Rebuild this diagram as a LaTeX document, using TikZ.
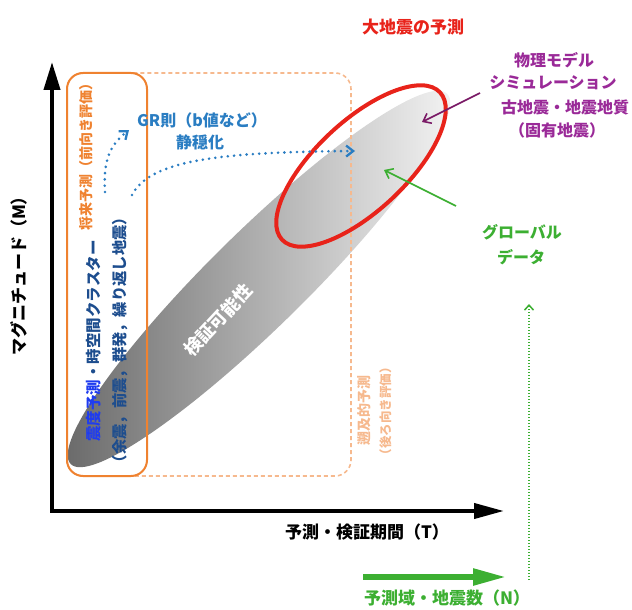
\documentclass[tikz,border=0pt]{standalone}
\usepackage{fontspec}
\setmainfont{Noto Sans CJK JP}
\usetikzlibrary{arrows.meta}
\definecolor{ored}{HTML}{E8231A}
\definecolor{purp}{HTML}{9A2A98}
\definecolor{parrow}{HTML}{7A1A66}
\definecolor{ggreen}{HTML}{3CAF32}
\definecolor{bblue}{HTML}{2A7DC2}
\definecolor{vblue}{HTML}{1F3CF0}
\definecolor{nblue}{HTML}{1D4D8E}
\definecolor{orng}{HTML}{EF8230}
\definecolor{lorng}{HTML}{F6B98E}
\tikzset{
  lbl/.style={font=\bfseries\fontsize{16}{19}\selectfont, inner sep=0pt},
  axisline/.style={line width=4pt, line join=miter},
  bdot/.style={bblue, line width=2.9pt, line cap=round, dash pattern=on 0pt off 6.3pt, -{Straight Barb[length=7pt,width=11pt,line width=2.3pt]}},
  solidbox/.style={orng, line width=2pt, rounded corners=16pt},
  dashbox/.style={lorng, line width=1.6pt, dash pattern=on 4pt off 3pt, rounded corners=16pt},
}
\begin{document}
\begin{tikzpicture}[x=1pt,y=-1pt]
\useasboundingbox (0,0) rectangle (632,610);
% gray ellipse
\shade[rotate around={44.5:(259,279)}, left color=gray!80!black, right color=gray!6]
  (259,279) ellipse [x radius=264, y radius=48];
% boxes
\draw[dashbox] (67,73) rectangle (351,476);
\draw[solidbox] (67,73) rectangle (147,476);
% red ellipse
\draw[ored, line width=4pt, rotate around={43:(361,166)}] (361,166) ellipse [x radius=108, y radius=45];
% axes
\coordinate (O) at (52,511);
\coordinate (Ytip) at (52,62);
\coordinate (Xtip) at (504,511);
\draw[axisline, {Triangle[length=28pt,width=16pt]}-{Triangle[length=30pt,width=15pt]}] (Ytip) -- (O) -- (Xtip);
% green arrow and dotted line
\coordinate (g1) at (363,577);
\coordinate (g2) at (506,577);
\draw[ggreen, line width=5.5pt, -{Triangle[length=33pt,width=16pt]}] (g1) -- (g2);
\coordinate (d1) at (529,580);
\coordinate (d2) at (529,304);
\draw[ggreen, line width=1.5pt, dash pattern=on 1.5pt off 1.5pt, -{Straight Barb[length=5pt,width=9pt,line width=1.5pt]}] (d1) -- (d2);
% blue dotted arrows
\coordinate (s1) at (105,192);
\coordinate (s2) at (129,130);
\draw[bdot] (s1) .. controls (103,160) and (110,145) .. (s2);
\coordinate (l1) at (132,195);
\coordinate (l2) at (355,151);
\draw[bdot] (l1) .. controls (150,160) and (220,152) .. (l2);
% texts
\node[lbl, text=ored, font=\bfseries\fontsize{17}{20}\selectfont] (big) at (413,27) {大地震の予測};
\node[lbl, text=purp] (p1) at (554,60) {物理モデル};
\node[lbl, text=purp] (p2) at (553,83) {シミュレーション};
\node[lbl, text=purp] (p3) at (565,107) {古地震・地震地質};
\node[lbl, text=purp] (p4) at (557,130) {（固有地震）};
\coordinate (pa1) at (480,93);
\coordinate (pa2) at (422,122);
\draw[parrow, line width=1.6pt, -{Straight Barb[length=7pt,width=11pt,line width=1.6pt]}] (pa1) -- (pa2);
\node[lbl, text=ggreen] (gl1) at (522,232) {グローバル};
\node[lbl, text=ggreen] (gl2) at (521,257) {データ};
\coordinate (ga1) at (456,206);
\coordinate (ga2) at (384,170);
\draw[ggreen, line width=1.6pt, -{Straight Barb[length=7pt,width=11pt,line width=1.6pt]}] (ga1) -- (ga2);
\node[lbl, text=bblue] (gr) at (202,120) {GR則（b値など）};
\node[lbl, text=bblue] (sei) at (200,142) {静穏化};
\node[lbl, text=orng, rotate=90, font=\bfseries\fontsize{14}{16}\selectfont] (fut) at (86,153) {将来予測（前向き評価）};
\node[lbl, rotate=90, font=\bfseries\fontsize{15.5}{18}\selectfont] (shin) at (94,341) {\textcolor{vblue}{震度予測}\textcolor{nblue}{・時空間クラスター}};
\node[lbl, rotate=90, text=nblue, font=\bfseries\fontsize{15.3}{18}\selectfont] (yo) at (120,340) {（余震，前震，群発，繰り返し地震）};
\node[lbl, rotate=90, text=lorng, font=\bfseries\fontsize{14}{16}\selectfont] (sokyu) at (364,410) {遡及的予測};
\node[lbl, rotate=90, text=lorng, font=\bfseries\fontsize{12.5}{15}\selectfont] (ushiro) at (386,411) {（後ろ向き評価）};
\node[lbl, rotate=47, text=white, font=\bfseries\fontsize{18}{20}\selectfont] (ken) at (218,320) {検証可能性};
\node[lbl, rotate=90, font=\bfseries\fontsize{17}{20}\selectfont] (mag) at (19,272) {マグニチュード（M）};
\node[lbl, font=\bfseries\fontsize{17}{20}\selectfont] (tlab) at (367,532) {予測・検証期間（T）};
\node[lbl, text=ggreen, font=\bfseries\fontsize{17}{20}\selectfont] (nlab) at (447,598) {予測域・地震数（N）};
\end{tikzpicture}
\end{document}
